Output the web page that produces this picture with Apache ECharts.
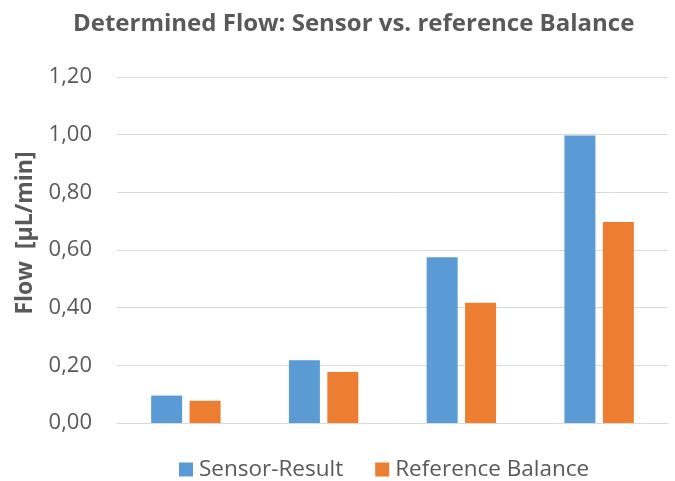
<!DOCTYPE html>
<html>
<head>
<meta charset="utf-8">
<script src="https://cdn.jsdelivr.net/npm/echarts@6/dist/echarts.min.js"></script>
<style>
  html, body { margin: 0; padding: 0; background: #fff; }
  #chart { width: 675px; height: 481px; }
</style>
</head>
<body>
<div id="chart"></div>
<script>
// categories have no labels in the original
var categories = ['1', '2', '3', '4'];
var sensorResult = [0.095, 0.218, 0.575, 0.997];
var referenceBalance = [0.077, 0.177, 0.417, 0.697];

var textGray = '#595959';
var font = 'Open Sans';

var chart = echarts.init(document.getElementById('chart'));
chart.setOption({
  animation: false,
  color: ['#5B9BD5', '#ED7D31'],
  title: {
    text: 'Determined Flow: Sensor vs. reference Balance',
    left: 68,
    top: 7,
    textStyle: {
      fontFamily: font,
      fontSize: 24,
      fontWeight: 'bold',
      color: textGray
    }
  },
  legend: {
    top: 453,
    left: 174,
    itemWidth: 14,
    itemHeight: 14,
    itemGap: 32,
    icon: 'rect',
    textStyle: {
      fontFamily: font,
      fontSize: 22.5,
      color: textGray,
      padding: [0, 0, 0, 1]
    },
    data: ['Sensor-Result', 'Reference Balance']
  },
  grid: {
    left: 117,
    right: 7,
    top: 77,
    bottom: 58
  },
  xAxis: {
    type: 'category',
    data: categories,
    axisLine: { lineStyle: { color: '#D9D9D9', width: 1 } },
    axisTick: { show: false },
    axisLabel: { show: false }
  },
  yAxis: {
    type: 'value',
    min: 0,
    max: 1.2,
    interval: 0.2,
    name: 'Flow  [µL/min]',
    nameLocation: 'middle',
    nameGap: 80,
    nameTextStyle: {
      fontFamily: font,
      fontSize: 23,
      fontWeight: 'bold',
      color: textGray,
      padding: [0, 0, 0, 34]
    },
    axisLine: { show: false },
    axisTick: { show: false },
    splitLine: { lineStyle: { color: '#D9D9D9', width: 1 } },
    axisLabel: {
      margin: 25,
      fontFamily: font,
      fontSize: 22,
      color: textGray,
      formatter: function (v) { return v.toFixed(2).replace('.', ','); }
    }
  },
  series: [
    {
      name: 'Sensor-Result',
      type: 'bar',
      barWidth: 31,
      barGap: '24%',
      data: sensorResult
    },
    {
      name: 'Reference Balance',
      type: 'bar',
      barWidth: 31,
      barGap: '24%',
      data: referenceBalance
    }
  ]
});
</script>
</body>
</html>
